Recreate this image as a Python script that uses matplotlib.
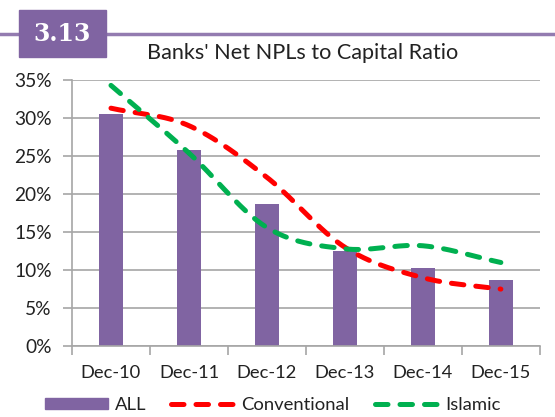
import numpy as np
import matplotlib
matplotlib.use("Agg")
import matplotlib.pyplot as plt
from matplotlib.patches import Rectangle
from matplotlib.lines import Line2D
from matplotlib.ticker import PercentFormatter

plt.rcParams["font.family"] = ["Lato", "DejaVu Sans"]

periods = ["Dec-10", "Dec-11", "Dec-12", "Dec-13", "Dec-14", "Dec-15"]
all_banks = [30.5, 25.8, 18.7, 12.5, 10.3, 8.7]
conventional = [31.3, 29.0, 22.2, 13.0, 9.0, 7.5]
islamic = [34.3, 25.4, 15.6, 12.8, 13.2, 11.0]

PURPLE = "#8064A2"
RED = "#FF0000"
GREEN = "#00B050"
GRID = "#A6A6A6"
TEXT = "#222222"
DASH = (0, (2.5, 2.4))


def smooth(x, y, n=30):
    # Catmull-Rom curve through the points, like a spreadsheet "smoothed line"
    x = np.asarray(x, float)
    y = np.asarray(y, float)
    px = np.concatenate([[2 * x[0] - x[1]], x, [2 * x[-1] - x[-2]]])
    py = np.concatenate([[2 * y[0] - y[1]], y, [2 * y[-1] - y[-2]]])
    xs, ys = [], []
    t = np.linspace(0, 1, n)
    for i in range(1, len(px) - 2):
        for p, out in ((px, xs), (py, ys)):
            p0, p1, p2, p3 = p[i - 1], p[i], p[i + 1], p[i + 2]
            out.extend(0.5 * (2 * p1 + (-p0 + p2) * t
                              + (2 * p0 - 5 * p1 + 4 * p2 - p3) * t ** 2
                              + (-p0 + 3 * p1 - 3 * p2 + p3) * t ** 3))
    return np.array(xs), np.array(ys)


fig = plt.figure(figsize=(5.55, 4.17), dpi=100)
ax = fig.add_axes([0.1297, 0.170, 0.843, 0.638])

x = np.arange(len(periods))
ax.bar(x, all_banks, width=0.31, color=PURPLE, zorder=2)

line_kw = dict(lw=3.6, linestyle=DASH, dash_capstyle="round", zorder=3)
ax.plot(*smooth(x, conventional), color=RED, **line_kw)
ax.plot(*smooth(x, islamic), color=GREEN, **line_kw)

ax.set_xlim(-0.5, len(periods) - 0.5)
ax.set_ylim(0, 35)
ax.set_yticks(np.arange(0, 36, 5))
ax.yaxis.set_major_formatter(PercentFormatter(decimals=0))
ax.set_xticks(x)
ax.set_xticklabels(periods)
ax.set_xticks(np.arange(-0.5, len(periods)), minor=True)
ax.tick_params(axis="x", which="major", length=0, pad=13.5, labelsize=13.2, colors=TEXT)
ax.tick_params(axis="x", which="minor", length=6.5, color=GRID, width=1.2)
ax.tick_params(axis="y", length=6.5, pad=8, color=GRID, width=1.2, labelsize=13.8, colors=TEXT)

ax.grid(axis="y", color=GRID, lw=1.2, zorder=0)
for side in ("top", "right"):
    ax.spines[side].set_visible(False)
for side in ("left", "bottom"):
    ax.spines[side].set_color(GRID)
    ax.spines[side].set_linewidth(1.2)

# header band with the chart number
fig.add_artist(Line2D([0, 1], [0.918, 0.918], color=PURPLE, lw=2.5, alpha=0.85))
fig.add_artist(Rectangle((0.034, 0.863), 0.157, 0.113, color=PURPLE, zorder=3))
fig.text(0.112, 0.918, "3.13", ha="center", va="center", color="white",
         fontsize=17, fontweight="bold", family="DejaVu Serif", zorder=4)
fig.text(0.545, 0.873, "Banks' Net NPLs to Capital Ratio", ha="center", va="center",
         fontsize=15.6, color=TEXT)

handles = [
    Rectangle((0, 0), 1, 1, color=PURPLE),
    Line2D([], [], color=RED, lw=3.6, linestyle=DASH, dash_capstyle="round"),
    Line2D([], [], color=GREEN, lw=3.6, linestyle=DASH, dash_capstyle="round"),
]
leg = fig.legend(handles, ["ALL", "Conventional", "Islamic"], loc="center",
                 bbox_to_anchor=(0.491, 0.029), ncol=3, frameon=False, fontsize=13.3,
                 handlelength=3.4, handleheight=0.6, columnspacing=1.35, handletextpad=0.4)
for txt in leg.get_texts():
    txt.set_color(TEXT)

fig.savefig("out.png", dpi=100)
